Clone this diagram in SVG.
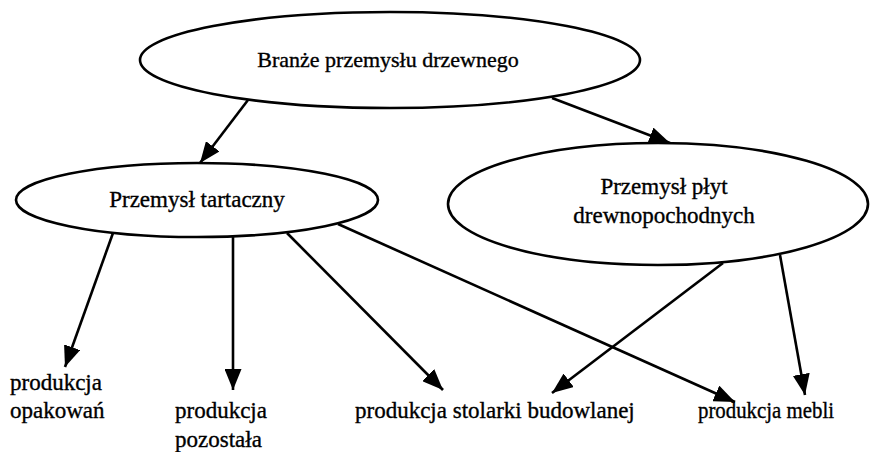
<svg xmlns="http://www.w3.org/2000/svg" width="876" height="452" viewBox="0 0 876 452" font-family="'Liberation Serif', 'Times New Roman', serif" font-size="23">
<style>
  .node ellipse { fill: #fff; stroke: #000; stroke-width: 2.6; }
  .t { font-family: 'Liberation Serif', 'Times New Roman', serif; font-size: 23px; fill: #000; stroke: #000; stroke-width: 0.35; }
  .c { text-anchor: middle; }
  #connectors line { stroke: #000; stroke-width: 2.6; marker-end: url(#arr); }
</style>
<defs>
  <marker id="arr" markerUnits="userSpaceOnUse" markerWidth="21" markerHeight="17" refX="21" refY="8.5" orient="auto">
    <path d="M0,0 L21,8.5 L0,17 z" fill="#000"/>
  </marker>
</defs>
<rect width="876" height="452" fill="#fff"/>
<g id="connectors">
  <line x1="248" y1="100" x2="200" y2="163"/>
  <line x1="552" y1="98" x2="670" y2="143"/>
  <line x1="113" y1="233" x2="65" y2="367"/>
  <line x1="233" y1="237" x2="233" y2="390"/>
  <line x1="287" y1="233" x2="443" y2="390"/>
  <line x1="338" y1="224" x2="735" y2="402"/>
  <line x1="723" y1="263" x2="552" y2="393"/>
  <line x1="780" y1="255" x2="805" y2="395"/>
</g>
<g id="n_branze" class="node">
  <ellipse cx="390" cy="60" rx="250" ry="48"/>
  <text class="t c" x="388" y="67" style="font-size:22px">Branże przemysłu drzewnego</text>
</g>
<g id="n_tartaczny" class="node">
  <ellipse cx="197" cy="200" rx="181" ry="37"/>
  <text class="t c" x="197" y="207">Przemysł tartaczny</text>
</g>
<g id="n_plyt" class="node">
  <ellipse cx="658" cy="204" rx="210" ry="61"/>
  <text class="t c" x="664" y="194">Przemysł płyt</text>
  <text class="t c" x="664" y="223">drewnopochodnych</text>
</g>
<g id="n_opakowan">
  <text class="t" x="10" y="390">produkcja</text>
  <text class="t" x="10" y="418">opakowań</text>
</g>
<g id="n_pozostala">
  <text class="t" x="175" y="418">produkcja</text>
  <text class="t" x="175" y="447">pozostała</text>
</g>
<g id="n_stolarki">
  <text class="t" x="355" y="418">produkcja stolarki budowlanej</text>
</g>
<g id="n_mebli">
  <text class="t" x="698" y="418" textLength="136" lengthAdjust="spacingAndGlyphs">produkcja mebli</text>
</g>
</svg>
